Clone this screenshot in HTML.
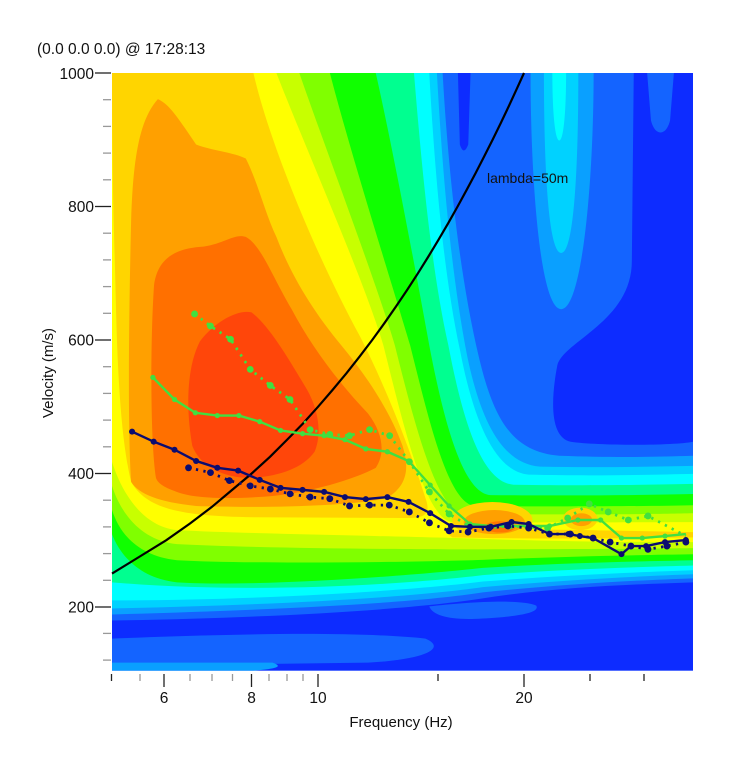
<!DOCTYPE html>
<html><head><meta charset="utf-8"><style>
html,body{margin:0;padding:0;background:#fff;}
svg{display:block;font-family:"Liberation Sans",sans-serif;}
</style></head><body>
<svg width="731" height="768" viewBox="0 0 731 768" xmlns="http://www.w3.org/2000/svg">
<defs><clipPath id="cp"><rect x="30" y="32" width="1520" height="1488"/></clipPath></defs>
<text x="37" y="54" font-size="15.5" fill="#111">(0.0 0.0 0.0) @ 17:28:13</text>
<g transform="translate(112,73) scale(0.38224,0.40168) translate(-30,-32)">
<g clip-path="url(#cp)">
<rect x="30" y="32" width="1520" height="1488" fill="#1464ff"/>
<path d="M1395,32 L1550,32 L1550,950 C1500,960 1300,960 1230,950 C1180,940 1175,860 1195,760 C1210,700 1390,650 1390,500 Z" fill="#0d2cff"/>
<path d="M1430,32 L1500,32 L1490,150 C1480,190 1450,190 1440,150 Z" fill="#1464ff"/>
<path d="M935,32 L968,32 L962,210 Q950,240 940,210 Z" fill="#0d2cff"/>
<path d="M30,1395 C400,1390 800,1370 1000,1340 C1200,1310 1400,1305 1550,1300 L1550,1520 L30,1520 Z" fill="#0d2cff"/>
<path d="M30,1440 C300,1430 650,1420 850,1440 C900,1460 870,1490 700,1500 L300,1505 L30,1505 Z" fill="#1464ff"/>
<path d="M860,1360 C950,1350 1100,1340 1140,1358 C1150,1375 1100,1385 1000,1390 C920,1395 870,1385 860,1360 Z" fill="#1464ff"/>
<path d="M30,1500 L450,1500 C480,1510 460,1515 400,1520 L30,1520 Z" fill="#0aa0ff"/>
<path d="M1125,32 L1290,32 C1290,300 1260,620 1205,620 C1150,620 1125,300 1125,32 Z" fill="#0aa0ff"/>
<path d="M1160,32 L1250,32 C1250,250 1240,480 1205,480 C1170,480 1160,250 1160,32 Z" fill="#00d2ff"/>
<path d="M1182,32 L1218,32 C1218,120 1212,200 1200,200 C1188,200 1182,120 1182,32 Z" fill="#00ffff"/>
<!-- sweeping levels -->
<path d="M30,32 L895,32 C905,200 930,500 990,740 C1030,900 1080,975 1200,985 C1350,990 1450,988 1550,985 L1550,1290 C1400,1295 1200,1305 1000,1325 C800,1355 400,1370 30,1380 Z" fill="#0aa0ff"/>
<path d="M30,32 L880,32 C890,200 910,500 960,740 C1000,920 1060,1005 1150,1012 C1300,1015 1450,1012 1550,1010 L1550,1280 C1400,1285 1200,1295 1000,1312 C800,1340 400,1358 30,1365 Z" fill="#00d2ff"/>
<path d="M30,32 L860,32 C870,200 890,500 940,720 C980,920 1040,1025 1120,1032 C1300,1036 1450,1032 1550,1030 L1550,1270 C1400,1275 1200,1283 1000,1298 C800,1322 400,1345 30,1345 Z" fill="#00ffff"/>
<path d="M30,32 L820,32 C835,200 860,500 910,710 C950,910 1000,1050 1080,1057 C1300,1060 1450,1057 1550,1055 L1550,1258 C1400,1262 1200,1268 1000,1282 C800,1305 400,1330 30,1300 Z" fill="#00ff90"/>
<path d="M30,32 L720,32 C760,200 820,500 860,710 C900,910 950,1078 1020,1083 C1300,1085 1450,1082 1550,1080 L1550,1245 C1400,1248 1200,1252 1000,1264 C800,1285 400,1312 200,1300 C100,1290 50,1230 30,1180 Z" fill="#10ff00"/>
<path d="M30,32 L600,32 C660,250 760,550 810,710 C860,900 910,1105 980,1110 C1300,1112 1450,1110 1550,1108 L1550,1230 C1400,1232 1200,1236 1000,1244 C800,1250 400,1255 200,1245 C100,1235 50,1180 30,1120 Z" fill="#80ff00"/>
<path d="M30,32 L520,32 C600,250 720,550 770,710 C820,900 880,1125 950,1130 C1300,1132 1450,1130 1550,1128 L1550,1215 C1400,1217 1200,1217 1000,1218 C800,1218 400,1215 200,1205 C100,1195 50,1120 30,1060 Z" fill="#c8ff00"/>
<path d="M30,32 L460,32 C550,250 690,550 740,710 C790,900 850,1145 920,1150 C1300,1152 1450,1150 1550,1150 L1550,1200 C1400,1200 1200,1198 1000,1192 C800,1185 400,1180 200,1170 C100,1160 50,1060 30,1000 Z" fill="#ffff00"/>
<path d="M30,32 L400,32 C440,200 560,480 680,690 C760,840 820,1000 850,1090 C865,1130 850,1140 800,1140 L400,1138 C200,1135 120,1115 80,1050 C55,950 45,800 40,600 C35,400 30,300 30,32 Z" fill="#ffd500"/>
<path d="M900,1172 C1000,1165 1200,1168 1550,1175 L1550,1188 C1300,1192 1100,1192 920,1188 Z" fill="#ffd500"/>
<ellipse cx="1025" cy="1145" rx="105" ry="45" fill="#ffd500"/>
<ellipse cx="1255" cy="1142" rx="45" ry="28" fill="#ffd500"/>
<ellipse cx="1030" cy="1150" rx="80" ry="30" fill="#ffa000"/>
<ellipse cx="1258" cy="1144" rx="28" ry="16" fill="#ffa000"/>
<ellipse cx="1045" cy="1162" rx="40" ry="14" fill="#ff7800"/>
<path d="M80,1050 C70,900 75,600 80,400 C85,250 100,150 150,97 C180,110 200,140 250,210 C290,225 350,230 380,245 C410,300 430,380 460,440 C500,540 560,630 630,710 C700,790 760,880 790,960 C810,1020 800,1060 750,1090 C650,1112 400,1115 250,1110 C150,1100 100,1080 80,1050 Z" fill="#ffa000"/>
<path d="M145,1040 C130,950 130,700 140,560 C150,490 200,470 260,465 C320,460 350,430 380,440 C420,460 450,540 500,620 C550,710 620,800 700,880 C740,930 745,980 720,1015 C660,1045 550,1075 450,1085 C350,1093 250,1093 200,1075 C170,1065 150,1055 145,1040 Z" fill="#ff7000"/>
<path d="M240,960 C225,880 222,770 260,700 C300,650 360,620 395,628 C440,660 490,740 540,820 C570,870 580,930 560,975 C530,1015 470,1035 400,1040 C320,1042 260,1010 240,960 Z" fill="#ff460a"/>
</g>
</g>
<polyline fill="none" stroke="#000" stroke-width="2.2" points="112,573.6 139,557 166.3,540.2 190,523.5 212,506.8 232,490 251.7,473.5 270,456.8 286.7,440.1 303,423.5 318,406.8 332.5,390 346.3,373.4 359.5,356.7 372.2,340 384.3,323.3 395.9,306.6 407.1,290 418,273.2 428.4,256.5 438.4,239.9 448.2,223.2 457.6,206.5 466.7,189.8 475.6,173.1 484.2,156.4 492.6,139.7 500.8,123 508.7,106.4 516.4,89.7 524,73"/>
<text x="487" y="183" font-size="14" fill="#111">lambda=50m</text>
<g transform="translate(112,73) scale(0.37879,0.40161) translate(-30,-32)">
<polyline fill="none" stroke="#40e040" stroke-width="7" stroke-dasharray="6,14" points="248,632 290,662 343,695 395,770 448,810 500,845 553,920 605,932 657,935 710,920 763,935 815,1000 868,1075 920,1130 972,1160 1025,1165 1078,1160 1130,1163 1180,1165 1233,1140 1290,1105 1340,1125 1393,1145 1445,1135 1545,1185"/>
<g fill="#40e040">
<ellipse cx="248" cy="632" rx="9" ry="8.5"/><ellipse cx="290" cy="662" rx="9" ry="8.5"/><ellipse cx="343" cy="695" rx="9" ry="8.5"/><ellipse cx="395" cy="770" rx="9" ry="8.5"/><ellipse cx="448" cy="810" rx="9" ry="8.5"/><ellipse cx="500" cy="845" rx="9" ry="8.5"/><ellipse cx="553" cy="920" rx="9" ry="8.5"/><ellipse cx="605" cy="932" rx="9" ry="8.5"/><ellipse cx="657" cy="935" rx="9" ry="8.5"/><ellipse cx="710" cy="920" rx="9" ry="8.5"/><ellipse cx="763" cy="935" rx="9" ry="8.5"/><ellipse cx="815" cy="1000" rx="9" ry="8.5"/><ellipse cx="868" cy="1075" rx="9" ry="8.5"/><ellipse cx="920" cy="1130" rx="9" ry="8.5"/><ellipse cx="972" cy="1160" rx="9" ry="8.5"/><ellipse cx="1025" cy="1165" rx="9" ry="8.5"/><ellipse cx="1078" cy="1160" rx="9" ry="8.5"/><ellipse cx="1130" cy="1163" rx="9" ry="8.5"/><ellipse cx="1180" cy="1165" rx="9" ry="8.5"/><ellipse cx="1233" cy="1140" rx="9" ry="8.5"/><ellipse cx="1290" cy="1105" rx="9" ry="8.5"/><ellipse cx="1340" cy="1125" rx="9" ry="8.5"/><ellipse cx="1393" cy="1145" rx="9" ry="8.5"/><ellipse cx="1445" cy="1135" rx="9" ry="8.5"/>
</g>
<polyline fill="none" stroke="#40e040" stroke-width="6" points="138,790 195,845 250,878 308,885 365,885 420,900 475,922 533,930 590,935 645,945 700,968 757,975 813,998 870,1058 920,1110 975,1155 1030,1160 1085,1160 1130,1160 1185,1160 1260,1145 1320,1145 1375,1190 1430,1190 1490,1185 1545,1180"/>
<g fill="#40e040">
<ellipse cx="138" cy="790" rx="7" ry="6.5"/><ellipse cx="195" cy="845" rx="7" ry="6.5"/><ellipse cx="250" cy="878" rx="7" ry="6.5"/><ellipse cx="308" cy="885" rx="7" ry="6.5"/><ellipse cx="365" cy="885" rx="7" ry="6.5"/><ellipse cx="420" cy="900" rx="7" ry="6.5"/><ellipse cx="475" cy="922" rx="7" ry="6.5"/><ellipse cx="533" cy="930" rx="7" ry="6.5"/><ellipse cx="590" cy="935" rx="7" ry="6.5"/><ellipse cx="645" cy="945" rx="7" ry="6.5"/><ellipse cx="700" cy="968" rx="7" ry="6.5"/><ellipse cx="757" cy="975" rx="7" ry="6.5"/><ellipse cx="813" cy="998" rx="7" ry="6.5"/><ellipse cx="870" cy="1058" rx="7" ry="6.5"/><ellipse cx="920" cy="1110" rx="7" ry="6.5"/><ellipse cx="975" cy="1155" rx="7" ry="6.5"/><ellipse cx="1030" cy="1160" rx="7" ry="6.5"/><ellipse cx="1085" cy="1160" rx="7" ry="6.5"/><ellipse cx="1130" cy="1160" rx="7" ry="6.5"/><ellipse cx="1185" cy="1160" rx="7" ry="6.5"/><ellipse cx="1260" cy="1145" rx="7" ry="6.5"/><ellipse cx="1320" cy="1145" rx="7" ry="6.5"/><ellipse cx="1375" cy="1190" rx="7" ry="6.5"/><ellipse cx="1430" cy="1190" rx="7" ry="6.5"/><ellipse cx="1490" cy="1185" rx="7" ry="6.5"/>
</g>
<polyline fill="none" stroke="#0c0c70" stroke-width="7" stroke-dasharray="6,14" points="232,1015 290,1027 340,1047 395,1060 448,1068 500,1080 553,1088 605,1092 657,1110 710,1108 762,1108 815,1125 868,1152 920,1172 970,1175 1025,1165 1075,1160 1130,1165 1185,1180 1240,1180 1300,1190 1345,1200 1400,1210 1445,1218 1495,1210 1545,1200"/>
<g fill="#0c0c70">
<ellipse cx="232" cy="1015" rx="9" ry="8.5"/><ellipse cx="290" cy="1027" rx="9" ry="8.5"/><ellipse cx="340" cy="1047" rx="9" ry="8.5"/><ellipse cx="395" cy="1060" rx="9" ry="8.5"/><ellipse cx="448" cy="1068" rx="9" ry="8.5"/><ellipse cx="500" cy="1080" rx="9" ry="8.5"/><ellipse cx="553" cy="1088" rx="9" ry="8.5"/><ellipse cx="605" cy="1092" rx="9" ry="8.5"/><ellipse cx="657" cy="1110" rx="9" ry="8.5"/><ellipse cx="710" cy="1108" rx="9" ry="8.5"/><ellipse cx="762" cy="1108" rx="9" ry="8.5"/><ellipse cx="815" cy="1125" rx="9" ry="8.5"/><ellipse cx="868" cy="1152" rx="9" ry="8.5"/><ellipse cx="920" cy="1172" rx="9" ry="8.5"/><ellipse cx="970" cy="1175" rx="9" ry="8.5"/><ellipse cx="1025" cy="1165" rx="9" ry="8.5"/><ellipse cx="1075" cy="1160" rx="9" ry="8.5"/><ellipse cx="1130" cy="1165" rx="9" ry="8.5"/><ellipse cx="1185" cy="1180" rx="9" ry="8.5"/><ellipse cx="1240" cy="1180" rx="9" ry="8.5"/><ellipse cx="1300" cy="1190" rx="9" ry="8.5"/><ellipse cx="1345" cy="1200" rx="9" ry="8.5"/><ellipse cx="1400" cy="1210" rx="9" ry="8.5"/><ellipse cx="1445" cy="1218" rx="9" ry="8.5"/><ellipse cx="1495" cy="1210" rx="9" ry="8.5"/><ellipse cx="1545" cy="1200" rx="9" ry="8.5"/>
</g>
<polyline fill="none" stroke="#0c0c70" stroke-width="6" points="83,925 140,950 195,970 252,998 308,1015 363,1022 420,1045 475,1065 533,1070 590,1075 645,1088 700,1093 757,1088 813,1100 870,1128 925,1160 975,1162 1030,1162 1085,1150 1130,1155 1185,1180 1235,1180 1265,1185 1300,1190 1375,1230 1400,1210 1440,1210 1490,1200 1545,1195"/>
<g fill="#0c0c70">
<ellipse cx="83" cy="925" rx="8" ry="7.5"/><ellipse cx="140" cy="950" rx="8" ry="7.5"/><ellipse cx="195" cy="970" rx="8" ry="7.5"/><ellipse cx="252" cy="998" rx="8" ry="7.5"/><ellipse cx="308" cy="1015" rx="8" ry="7.5"/><ellipse cx="363" cy="1022" rx="8" ry="7.5"/><ellipse cx="420" cy="1045" rx="8" ry="7.5"/><ellipse cx="475" cy="1065" rx="8" ry="7.5"/><ellipse cx="533" cy="1070" rx="8" ry="7.5"/><ellipse cx="590" cy="1075" rx="8" ry="7.5"/><ellipse cx="645" cy="1088" rx="8" ry="7.5"/><ellipse cx="700" cy="1093" rx="8" ry="7.5"/><ellipse cx="757" cy="1088" rx="8" ry="7.5"/><ellipse cx="813" cy="1100" rx="8" ry="7.5"/><ellipse cx="870" cy="1128" rx="8" ry="7.5"/><ellipse cx="925" cy="1160" rx="8" ry="7.5"/><ellipse cx="975" cy="1162" rx="8" ry="7.5"/><ellipse cx="1030" cy="1162" rx="8" ry="7.5"/><ellipse cx="1085" cy="1150" rx="8" ry="7.5"/><ellipse cx="1130" cy="1155" rx="8" ry="7.5"/><ellipse cx="1185" cy="1180" rx="8" ry="7.5"/><ellipse cx="1235" cy="1180" rx="8" ry="7.5"/><ellipse cx="1265" cy="1185" rx="8" ry="7.5"/><ellipse cx="1300" cy="1190" rx="8" ry="7.5"/><ellipse cx="1375" cy="1230" rx="8" ry="7.5"/><ellipse cx="1400" cy="1210" rx="8" ry="7.5"/><ellipse cx="1440" cy="1210" rx="8" ry="7.5"/><ellipse cx="1490" cy="1200" rx="8" ry="7.5"/><ellipse cx="1545" cy="1195" rx="8" ry="7.5"/>
</g>
</g>
<g stroke="#999" stroke-width="1.3">
<line x1="103" y1="99.7" x2="111" y2="99.7"/><line x1="103" y1="126.4" x2="111" y2="126.4"/><line x1="103" y1="153.1" x2="111" y2="153.1"/><line x1="103" y1="179.8" x2="111" y2="179.8"/>
<line x1="103" y1="233.2" x2="111" y2="233.2"/><line x1="103" y1="259.9" x2="111" y2="259.9"/><line x1="103" y1="286.6" x2="111" y2="286.6"/><line x1="103" y1="313.3" x2="111" y2="313.3"/>
<line x1="103" y1="366.7" x2="111" y2="366.7"/><line x1="103" y1="393.4" x2="111" y2="393.4"/><line x1="103" y1="420.1" x2="111" y2="420.1"/><line x1="103" y1="446.8" x2="111" y2="446.8"/>
<line x1="103" y1="500.2" x2="111" y2="500.2"/><line x1="103" y1="526.9" x2="111" y2="526.9"/><line x1="103" y1="553.6" x2="111" y2="553.6"/><line x1="103" y1="580.3" x2="111" y2="580.3"/>
<line x1="103" y1="633.4" x2="111" y2="633.4"/><line x1="103" y1="660.1" x2="111" y2="660.1"/>
</g>
<g stroke="#222" stroke-width="1.3">
<line x1="95" y1="73" x2="111" y2="73"/><line x1="95" y1="206.5" x2="111" y2="206.5"/><line x1="95" y1="340" x2="111" y2="340"/><line x1="95" y1="473.5" x2="111" y2="473.5"/><line x1="95" y1="607" x2="111" y2="607"/>
</g>
<g font-size="15.5" fill="#111" text-anchor="end">
<text x="94" y="79">1000</text><text x="94" y="212">800</text><text x="94" y="345.5">600</text><text x="94" y="479">400</text><text x="94" y="612.5">200</text>
</g>
<text transform="translate(53,373) rotate(-90)" font-size="15" fill="#111" text-anchor="middle">Velocity (m/s)</text>
<g stroke="#999" stroke-width="1.3">
<line x1="140" y1="674" x2="140" y2="681"/><line x1="190" y1="674" x2="190" y2="681"/><line x1="212" y1="674" x2="212" y2="681"/><line x1="232.5" y1="674" x2="232.5" y2="681"/><line x1="269" y1="674" x2="269" y2="681"/><line x1="287" y1="674" x2="287" y2="681"/><line x1="303" y1="674" x2="303" y2="681"/>
</g>
<g stroke="#222" stroke-width="1.3">
<line x1="111.5" y1="674" x2="111.5" y2="681"/><line x1="438" y1="674" x2="438" y2="681"/><line x1="590" y1="674" x2="590" y2="681"/><line x1="644" y1="674" x2="644" y2="681"/>
<line x1="164" y1="674" x2="164" y2="687"/><line x1="251.5" y1="674" x2="251.5" y2="687"/><line x1="318" y1="674" x2="318" y2="687"/><line x1="524" y1="674" x2="524" y2="687"/>
</g>
<g font-size="15.5" fill="#111" text-anchor="middle">
<text x="164" y="703">6</text><text x="251.5" y="703">8</text><text x="318" y="703">10</text><text x="524" y="703">20</text>
</g>
<text x="401" y="727" font-size="15" fill="#111" text-anchor="middle">Frequency (Hz)</text>
</svg>
</body></html>
